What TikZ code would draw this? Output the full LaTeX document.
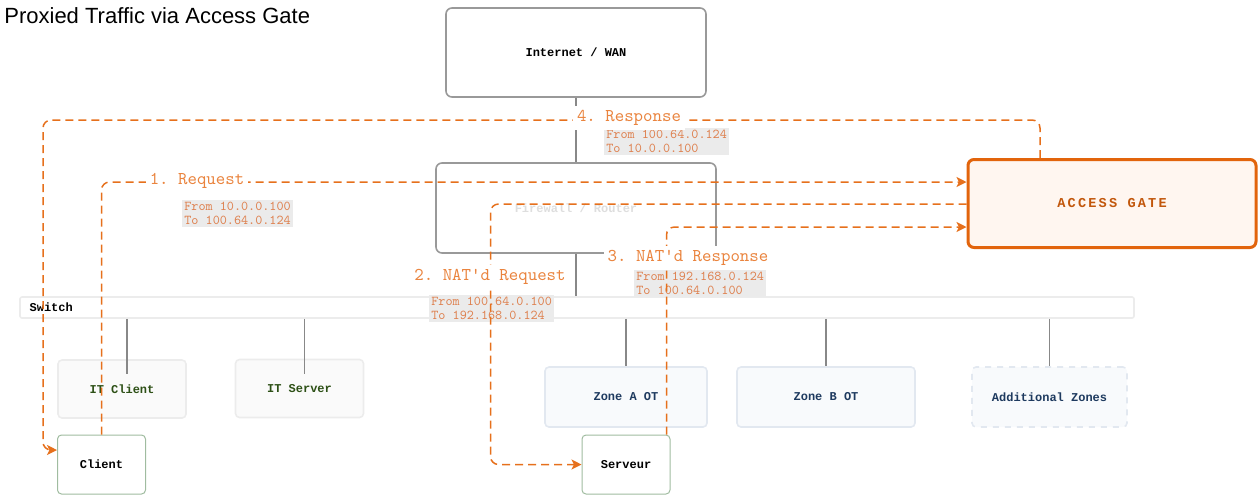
\documentclass[tikz,border=0pt]{standalone}
\usepackage{fontspec}
\setmainfont{Liberation Sans}
\setmonofont[Extension=.otf]{lmmono10-regular}
\newfontfamily\boxfont{Liberation Mono}
\usetikzlibrary{arrows.meta,positioning}
\definecolor{flowor}{RGB}{230,112,28}
\definecolor{steptext}{RGB}{234,132,62}
\definecolor{addrtext}{RGB}{222,128,78}
\definecolor{addrbg}{RGB}{235,235,235}
\definecolor{netgrey}{RGB}{153,153,153}
\definecolor{linkgrey}{RGB}{136,136,136}
\definecolor{fwtext}{RGB}{222,222,222}
\definecolor{palegrey}{RGB}{236,236,236}
\definecolor{itgreen}{RGB}{45,80,22}
\definecolor{zonenavy}{RGB}{30,58,95}
\definecolor{zoneline}{RGB}{226,232,240}
\definecolor{zonefill}{RGB}{248,250,252}
\definecolor{hostline}{RGB}{160,188,160}
\definecolor{gateor}{RGB}{226,100,12}
\definecolor{gatefill}{RGB}{255,246,240}
\definecolor{gatetext}{RGB}{194,87,12}
\tikzset{
  base/.style={font=\boxfont\bfseries\fontsize{6}{7}\selectfont, align=center, inner sep=2pt, text=black},
  netbox/.style={base, rectangle, rounded corners=3pt, draw=netgrey, fill=white, line width=0.8pt},
  switchbar/.style={rectangle, rounded corners=1pt, draw=palegrey, fill=white, line width=0.8pt},
  itbox/.style={base, rectangle, rounded corners=2pt, draw=palegrey, fill=white!98!black, line width=0.8pt, text=itgreen, minimum width=64pt, minimum height=29pt},
  zone/.style={base, rectangle, rounded corners=2pt, draw=zoneline, fill=zonefill, line width=0.8pt, text=zonenavy, minimum height=30pt},
  host/.style={base, rectangle, rounded corners=2pt, draw=hostline, fill=white, line width=0.5pt, minimum width=44pt, minimum height=29.5pt},
  gatebox/.style={base, rectangle, rounded corners=3pt, draw=gateor, fill=gatefill, line width=1.5pt, text=gatetext, font=\boxfont\bfseries\fontsize{6.8}{8}\selectfont\addfontfeatures{LetterSpace=16}, minimum width=144pt, minimum height=44pt},
  link/.style={line width=0.75pt, draw=linkgrey},
  flow/.style={-{Stealth[length=5pt,width=5pt,inset=1.2pt]}, line width=0.75pt, draw=flowor, dash pattern=on 4pt off 2.5pt, rounded corners=4pt},
  steplbl/.style={font=\ttfamily\fontsize{9}{10}\selectfont, text=steptext, fill=white, inner sep=2pt},
  addr/.style={font=\ttfamily\fontsize{6.75}{7}\selectfont, text=addrtext, fill=addrbg, align=left, inner sep=1pt},
  heading/.style={font=\fontsize{11}{13}\selectfont, inner sep=1pt},
}
\begin{document}
\begin{tikzpicture}[x=0.5pt,y=-0.5pt]
  \useasboundingbox (0,0) rectangle (1259,495);
  \node[heading,anchor=west] (title) at (2,16) {Proxied Traffic via Access Gate};
  \node[netbox,minimum width=130pt,minimum height=44.5pt] (inet) at (576,52.5) {Internet / WAN};
  \node[netbox,minimum width=140pt,minimum height=45pt,text=fwtext] (fw) at (576,208) {Firewall / Router};
  \node[switchbar,minimum width=557pt,minimum height=10.5pt] (sw) at (577,307.5) {};
  \node[base,anchor=west] (swtxt) at ([xshift=3pt]sw.west) {Switch};
  \node[itbox] (itc) at (122,389) {IT Client};
  \node[itbox] (its) at (299.5,388.5) {IT Server};
  \node[zone,minimum width=81pt] (za) at (626,397) {Zone A OT};
  \node[zone,minimum width=89pt] (zb) at (826,397) {Zone B OT};
  \node[zone,dashed,minimum width=77.5pt] (zx) at (1049.5,397) {Additional Zones};
  \node[host] (client) at (101.5,464.5) {Client};
  \node[host] (serv) at (626,464.5) {Serveur};
  \node[gatebox] (gate) at (1112,203.5) {ACCESS GATE};
  \draw[link] (inet) -- (fw);
  \draw[link] (fw) -- (fw.south |- sw.north);
  \foreach \d in {itc,its}{\draw[link] ([xshift=2.5pt]sw.south -| \d.north) -- ([xshift=2.5pt,yshift=-7.5pt]\d.north);}
  \foreach \d in {za,zb,zx}{\draw[link] (sw.south -| \d.north) -- (\d.north);}
  \node[addr,anchor=north west] (a1) at (182,200) {From 10.0.0.100\\To 100.64.0.124};
  \node[addr,anchor=north west] (a2) at (429,295) {From 100.64.0.100\\To 192.168.0.124};
  \node[addr,anchor=north west] (a3) at (634,270) {From 192.168.0.124\\To 100.64.0.100};
  \node[addr,anchor=north west] (a4) at (604,128) {From 100.64.0.124\\To 10.0.0.100};
  \coordinate (back) at (43,120);
  \draw[flow] (client.north) |- ([yshift=10.75pt]gate.west);
  \draw[flow] ([yshift=-0.25pt]gate.west) -| ([xshift=-45.5pt]serv.west) -- (serv.west);
  \draw[flow] ([xshift=-2pt]serv.north east) |- ([yshift=-11.75pt]gate.west);
  \draw[flow] ([xshift=-36pt]gate.north) |- (back) |- ([yshift=7.25pt]client.west);
  \node[steplbl] (s1) at (197,181) {1. Request};
  \node[steplbl] (s2) at (490,277) {2. NAT'd Request};
  \node[steplbl] (s3) at (688,258) {3. NAT'd Response};
  \node[steplbl] (s4) at (629,118) {4. Response};
\end{tikzpicture}
\end{document}
